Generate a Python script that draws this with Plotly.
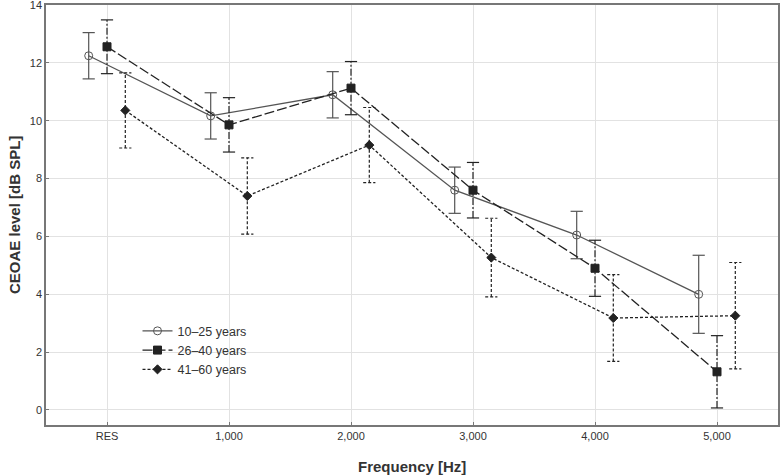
import plotly.graph_objects as go

categories = ["RES", "1,000", "2,000", "3,000", "4,000", "5,000"]
series_names = ["10\u201325 years", "26\u201340 years", "41\u201360 years"]
mean_10_25 = [12.25, 10.17, 10.9, 7.6, 6.05, 4.0]
err_10_25 = [0.8, 0.8, 0.8, 0.8, 0.82, 1.35]
mean_26_40 = [12.56, 9.86, 11.13, 7.6, 4.9, 1.32]
err_26_40 = [0.93, 0.94, 0.92, 0.96, 0.97, 1.25]
mean_41_60 = [10.36, 7.4, 9.16, 5.27, 3.18, 3.26]
err_41_60 = [1.3, 1.32, 1.3, 1.36, 1.5, 1.84]

offsets = [-0.15, 0.0, 0.15]
cap = 0.05
colors = ["#555555", "#222222", "#222222"]
dashes = ["solid", "10px,3px", "3px,2px"]
err_dashes = ["solid", "7px,2px,2px,2px", "3px,2px"]
symbols = ["circle-open", "square", "diamond"]
sizes = [8, 8, 7]

FONT = "Liberation Sans, Arial, sans-serif"

fig = go.Figure()
all_means = [mean_10_25, mean_26_40, mean_41_60]
all_errs = [err_10_25, err_26_40, err_41_60]

for k in range(3):
    xs = [i + offsets[k] for i in range(len(categories))]
    m = all_means[k]
    e = all_errs[k]
    vx, vy, cx, cy = [], [], [], []
    for x, y, d in zip(xs, m, e):
        vx += [x, x, None]
        vy += [y - d, y + d, None]
        for yy in (y - d, y + d):
            cx += [x - cap, x + cap, None]
            cy += [yy, yy, None]
    fig.add_trace(go.Scatter(x=vx, y=vy, mode="lines", showlegend=False, hoverinfo="skip",
                             line=dict(color=colors[k], width=1.2, dash=err_dashes[k])))
    fig.add_trace(go.Scatter(x=cx, y=cy, mode="lines", showlegend=False, hoverinfo="skip",
                             line=dict(color=colors[k], width=1.2, dash="solid" if k < 2 else "3px,2px")))
    fig.add_trace(go.Scatter(x=xs, y=m, mode="lines+markers", name=series_names[k],
                             line=dict(color=colors[k], width=1.3, dash=dashes[k]),
                             marker=dict(symbol=symbols[k], size=sizes[k], color=colors[k],
                                         line=dict(color=colors[k], width=1))))

axis_common = dict(showline=True, linecolor="#777777", linewidth=1.5, mirror=True,
                   showgrid=True, gridcolor="#e2e2e2", gridwidth=1, automargin=False,
                   ticks="inside", ticklen=3, tickcolor="#777777", zeroline=False,
                   ticklabeloverflow="allow",
                   tickfont=dict(family=FONT, size=11, color="#333333"))

fig.update_xaxes(range=[-0.5, 5.5], tickvals=list(range(len(categories))), ticktext=categories,
                 **axis_common)
fig.update_yaxes(range=[-0.52, 14.005], tickvals=[0, 2, 4, 6, 8, 10, 12, 14],
                 **axis_common)

fig.add_annotation(text="<b>Frequency [Hz]</b>", xref="paper", yref="paper", x=0.5, y=0,
                   yshift=-41, yanchor="middle", showarrow=False,
                   font=dict(family=FONT, size=15, color="#333333"))
fig.add_annotation(text="<b>CEOAE level [dB SPL]</b>", xref="paper", yref="paper", x=0, y=0.5,
                   xshift=-32, textangle=-90, xanchor="center", yanchor="middle", showarrow=False,
                   font=dict(family=FONT, size=15, color="#333333"))

fig.update_layout(width=780, height=476, margin=dict(l=46, r=2, t=5, b=51),
                  paper_bgcolor="white", plot_bgcolor="white",
                  legend=dict(x=0.125, y=0.259, xanchor="left", yanchor="top",
                              bgcolor="rgba(255,255,255,0)", tracegroupgap=0, itemwidth=30,
                              font=dict(family=FONT, size=12.5, color="#333333")),
                  showlegend=True)

fig.write_html("out.html", config={"displayModeBar": False},
               post_script="document.body.style.margin='0';")
